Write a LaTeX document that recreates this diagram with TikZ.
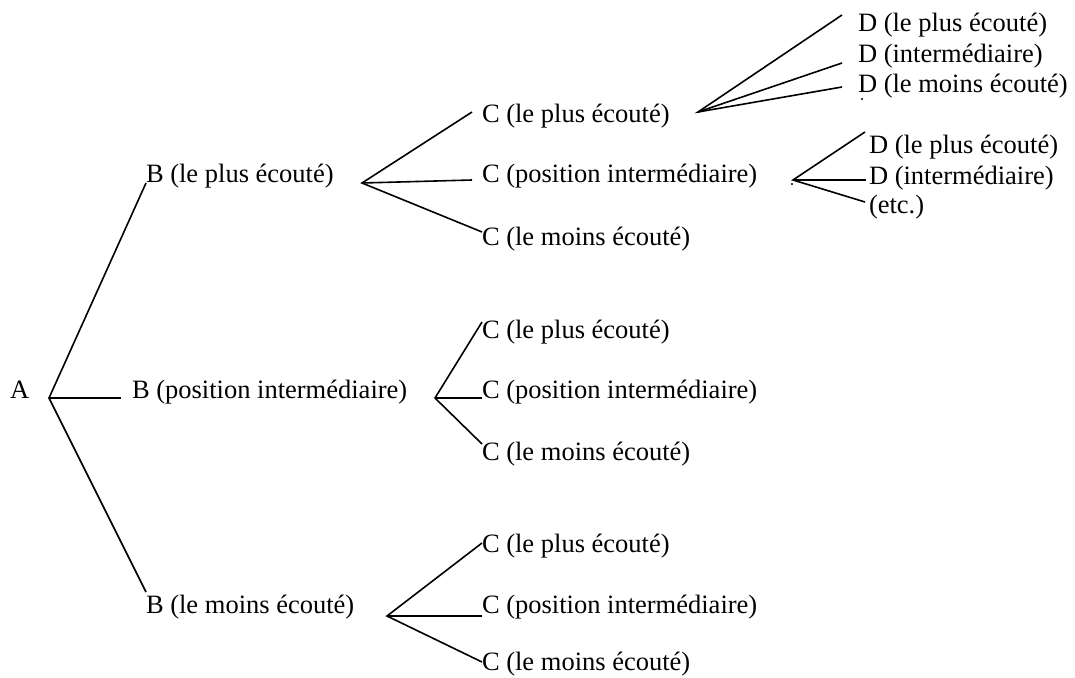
\documentclass[tikz,border=0pt]{standalone}
\usepackage{fontspec}
\setmainfont{Liberation Serif}
\begin{document}
\begin{tikzpicture}[x=1pt,y=-1pt,
  lbl/.style={anchor=base west,inner sep=0pt,outer sep=0pt,font=\fontsize{26.5}{30}\selectfont},
  edge/.style={draw=black,line width=1.6pt},
  speck/.style={fill=black,inner sep=0pt,minimum size=2.2pt,circle}]
\useasboundingbox (0,0) rectangle (1075,677);
% labels
\node[lbl] (A) at (10,398) {A};
\node[lbl] (B1) at (146,182) {B (le plus écouté)};
\node[lbl] (B2) at (132,398) {B (position intermédiaire)};
\node[lbl] (B3) at (146,613) {B (le moins écouté)};
\node[lbl] (C11) at (482,122) {C (le plus écouté)};
\node[lbl] (C12) at (482,182) {C (position intermédiaire)};
\node[lbl] (C13) at (482,245) {C (le moins écouté)};
\node[lbl] (C21) at (482,338) {C (le plus écouté)};
\node[lbl] (C22) at (482,398) {C (position intermédiaire)};
\node[lbl] (C23) at (482,460) {C (le moins écouté)};
\node[lbl] (C31) at (482,552) {C (le plus écouté)};
\node[lbl] (C32) at (482,613) {C (position intermédiaire)};
\node[lbl] (C33) at (482,670) {C (le moins écouté)};
\node[lbl] (D11) at (858,32) {D (le plus écouté)};
\node[lbl] (D12) at (858,63) {D (intermédiaire)};
\node[lbl] (D13) at (858,92) {D (le moins écouté)};
\node[lbl] (D21) at (869,153) {D (le plus écouté)};
\node[lbl] (D22) at (869,184) {D (intermédiaire)};
\node[lbl] (D23) at (869,213) {(etc.)};
% fork points
\coordinate (fa) at (49,398);
\coordinate (fb1) at (362,183);
\coordinate (fb2) at (435,398);
\coordinate (fb3) at (387,616);
\coordinate (fc1) at (698,112);
\coordinate (fc2) at (793,180);
% free ends
\coordinate (eB1) at (146,183);
\coordinate (eB2) at (121,398);
\coordinate (eB3) at (146,592);
\coordinate (e11) at (472,112);
\coordinate (e12) at (472,180);
\coordinate (e13) at (482,232);
\coordinate (e21) at (482,322);
\coordinate (e22) at (482,398);
\coordinate (e23) at (482,444);
\coordinate (e31) at (482,543);
\coordinate (e32) at (482,616);
\coordinate (e33) at (482,662);
\coordinate (eD11) at (842,15);
\coordinate (eD12) at (842,63);
\coordinate (eD13) at (842,87);
\coordinate (eD21) at (865,132);
\coordinate (eD22) at (866,180);
\coordinate (eD23) at (865,202);
% connectors
\draw[edge] (eB1) -- (fa) -- (eB3);
\draw[edge] (fa) -- (eB2);
\draw[edge] (e11) -- (fb1) -- (e13);
\draw[edge] (fb1) -- (e12);
\draw[edge] (e21) -- (fb2) -- (e23);
\draw[edge] (fb2) -- (e22);
\draw[edge] (e31) -- (fb3) -- (e33);
\draw[edge] (fb3) -- (e32);
\draw[edge] (eD11) -- (fc1) -- (eD13);
\draw[edge] (fc1) -- (eD12);
\draw[edge] (eD21) -- (fc2) -- (eD23);
\draw[edge] (fc2) -- (eD22);
% stray specks
\node[speck] (s1) at (862,99) {};
\node[speck] (s2) at (792,184) {};
\end{tikzpicture}
\end{document}
